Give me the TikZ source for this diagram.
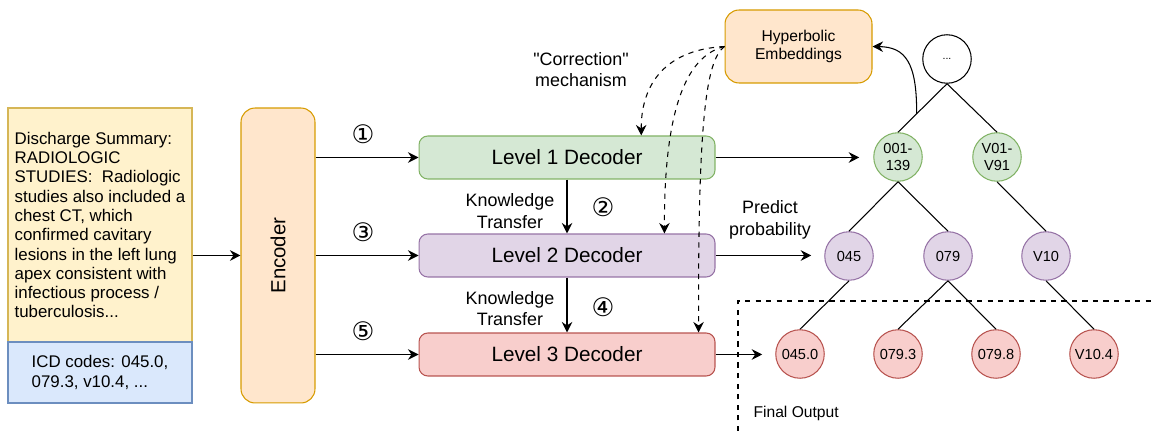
\documentclass[tikz,border=0pt]{standalone}
\usepackage{fontspec}
\setmainfont{Liberation Sans}
\newfontfamily\circfont{DejaVu Sans}
\newfontfamily\quotefont{Liberation Sans}
\usetikzlibrary{positioning,arrows.meta,calc}

\definecolor{yelfill}{HTML}{FFF2CC}
\definecolor{yeldraw}{HTML}{D6B656}
\definecolor{bluefill}{HTML}{DAE8FC}
\definecolor{bluedraw}{HTML}{6C8EBF}
\definecolor{orgfill}{HTML}{FFE6CC}
\definecolor{orgdraw}{HTML}{D79B00}
\definecolor{grnfill}{HTML}{D5E8D4}
\definecolor{grndraw}{HTML}{82B366}
\definecolor{purfill}{HTML}{E1D5E7}
\definecolor{purdraw}{HTML}{9673A6}
\definecolor{redfill}{HTML}{F8CECC}
\definecolor{reddraw}{HTML}{B85450}

\tikzset{
  every path/.style={line width=0.6pt},
  arr/.style={-{Stealth[length=6pt,width=6pt,inset=2pt]}},
  note/.style={draw, minimum width=3.68cm, align=left, inner sep=0pt,
    font=\fontsize{9.6}{11}\selectfont},
  decoder/.style={draw, rounded corners=5pt, minimum width=5.92cm,
    minimum height=0.86cm, font=\fontsize{11.8}{14}\selectfont},
  tn/.style={draw, circle, minimum size=0.97cm, inner sep=0pt, align=center,
    font=\fontsize{8.3}{9.5}\selectfont},
  num/.style={font=\circfont\fontsize{14.5}{16}\selectfont},
  lbl/.style={align=center, font=\fontsize{10.2}{12.3}\selectfont},
}

\begin{document}
\begin{tikzpicture}[x=0.02cm,y=-0.02cm]

  \useasboundingbox (0,0) rectangle (1151,431);

  % input text and encoder
  \node[note, fill=yelfill, draw=yeldraw, minimum height=4.68cm] (txt) at (100,225)
    {Discharge Summary:\\RADIOLOGIC\\STUDIES:~ Radiologic\\studies also included a\\chest CT, which\\confirmed cavitary\\lesions in the left lung\\apex consistent with\\infectious process /\\tuberculosis...};
  \node[note, fill=bluefill, draw=bluedraw, minimum height=1.22cm] (icd) at (100,372.5)
    {ICD codes: 045.0,\\079.3, v10.4, ...};
  \node[draw=orgdraw, fill=orgfill, rounded corners=8pt, minimum width=1.48cm,
    minimum height=5.9cm, font=\fontsize{11.6}{14}\selectfont] (enc) at (278,255.5)
    {\rotatebox{90}{Encoder}};

  \draw[arr] (txt.east |- enc) -- (enc);

  % decoders
  \node[decoder, fill=grnfill, draw=grndraw] (l1) at (567,157.5) {Level 1 Decoder};
  \node[decoder, fill=purfill, draw=purdraw] (l2) at (567,255.5) {Level 2 Decoder};
  \node[decoder, fill=redfill, draw=reddraw] (l3) at (567,354.5) {Level 3 Decoder};

  \draw[arr] (enc.east |- l1) -- (l1);
  \draw[arr] (enc.east |- l2) -- (l2);
  \draw[arr] (enc.east |- l3) -- (l3);
  \draw[arr] (l1) -- (l2);
  \draw[arr] (l2) -- (l3);

  \node[num] (s1) at (363,134) {①};
  \node[num] (s2) at (603,207) {②};
  \node[num] (s3) at (363,232) {③};
  \node[num] (s4) at (603,307) {④};
  \node[num] (s5) at (363,331) {⑤};

  \node[lbl] (kt1) at (510,211) {Knowledge\\Transfer};
  \node[lbl] (kt2) at (510,308.5) {Knowledge\\Transfer};

  % hyperbolic embeddings
  \node[draw=orgdraw, fill=orgfill, rounded corners=8pt, minimum width=2.94cm,
    minimum height=1.46cm, align=center, font=\fontsize{8.9}{9.8}\selectfont] (hyp)
    at (798.5,46.5) {Hyperbolic\\Embeddings};
  \node[lbl, font=\quotefont\fontsize{10.2}{12.3}\selectfont] (cm) at (581,69.5)
    {"Correction"\\mechanism};

  \draw[arr, dashed] (hyp.west) .. controls (660,50) and (641,90)
    .. ($(l1.north west)!0.75!(l1.north east)$);
  \draw[arr, dashed] (hyp.west) .. controls (690,55) and (664,100)
    .. ($(l2.north west)!0.828!(l2.north east)$);
  \draw[arr, dashed] (hyp.west) .. controls (706,60) and (698,120)
    .. ($(l3.north west)!0.943!(l3.north east)$);

  % code tree
  \node[tn, fill=white, font=\fontsize{6}{7}\selectfont] (r0) at (947,59) {...};
  \node[tn, fill=grnfill, draw=grndraw] (g1) at (898,157) {001-\\139};
  \node[tn, fill=grnfill, draw=grndraw] (g2) at (997,157) {V01-\\V91};
  \node[tn, fill=purfill, draw=purdraw] (p1) at (849,256) {045};
  \node[tn, fill=purfill, draw=purdraw] (p2) at (948,256) {079};
  \node[tn, fill=purfill, draw=purdraw] (p3) at (1046,256) {V10};
  \node[tn, fill=redfill, draw=reddraw] (q1) at (800,354) {045.0};
  \node[tn, fill=redfill, draw=reddraw] (q2) at (898,354) {079.3};
  \node[tn, fill=redfill, draw=reddraw] (q3) at (996,354) {079.8};
  \node[tn, fill=redfill, draw=reddraw] (q4) at (1094,354) {V10.4};

  \path[draw] (r0.south) edge (g1.north);
  \path[draw] (r0.south) edge (g2.north);
  \path[draw] (g1.south) edge (p1.north);
  \path[draw] (g1.south) edge (p2.north);
  \path[draw] (g2.south) edge (p3.north);
  \path[draw] (p1.south) edge (q1.north);
  \path[draw] (p2.south) edge (q2.north);
  \path[draw] (p2.south) edge (q3.north);
  \path[draw] (p3.south) edge (q4.north);

  \coordinate (kb) at ($(r0.south)!0.62!(g1.north)$);
  \draw[arr] (kb) .. controls (917,62) and (905,47) .. (hyp.east);

  \draw[arr, shorten >=0.28cm] (l1.east) -- (l1.east -| g1.west);
  \draw[arr, shorten >=0.26cm] (l2.east) -- (l2.east -| p1.west);
  \draw[arr, shorten >=0.26cm] (l3.east) -- (l3.east -| q1.west);

  \node[lbl] (pp) at (770,220) {Predict\\probability};

  % final output region
  \draw[dashed] (738,431) -- (738,301) -- (1151,301);
  \node[anchor=west, inner sep=0pt, font=\fontsize{8.9}{10}\selectfont] (fo)
    at (753,413) {Final Output};

\end{tikzpicture}
\end{document}
